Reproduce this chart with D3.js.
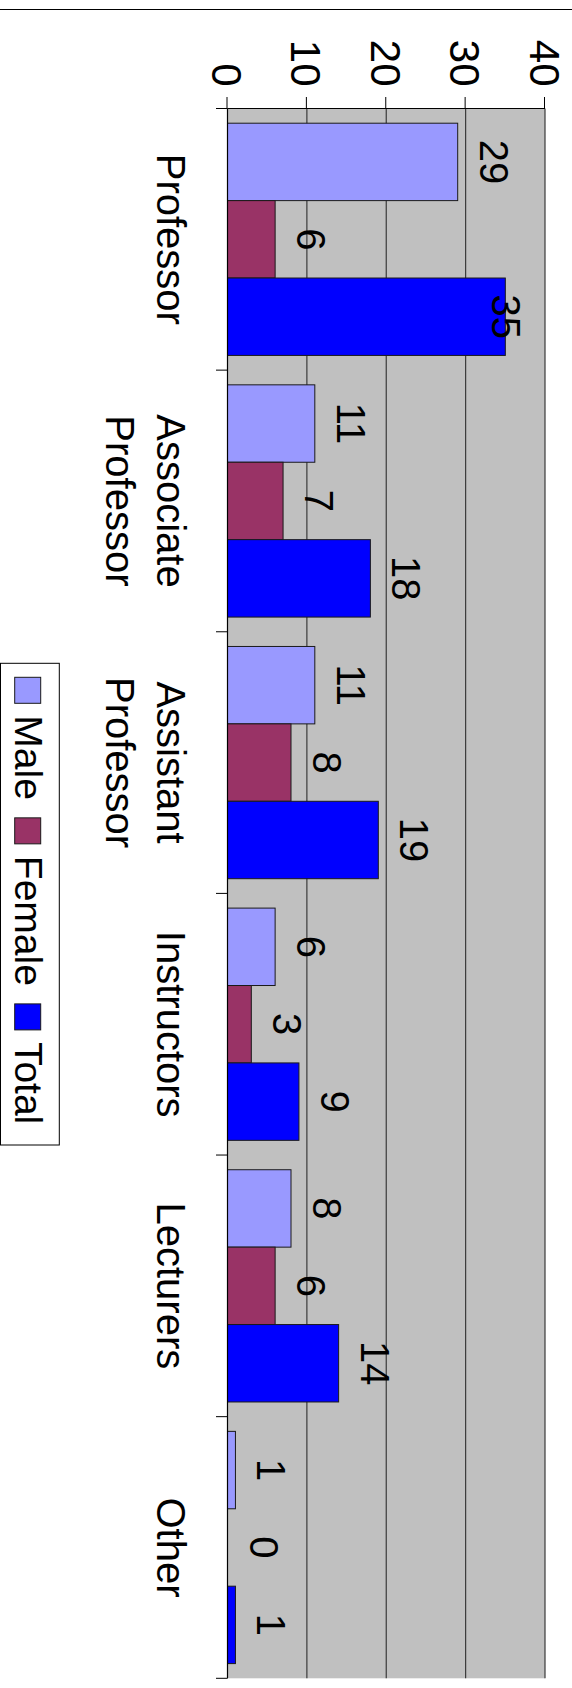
<!DOCTYPE html>
<html>
<head>
<meta charset="utf-8">
<script src="https://cdn.jsdelivr.net/npm/d3@7"></script>
<style>
  html, body { margin: 0; padding: 0; background: #fff; }
  svg { display: block; }
  text { font-family: "Liberation Sans", Arial, sans-serif; fill: #000; }
</style>
</head>
<body>
<script>
// ---- data ----
const categories = [["Professor"], ["Associate", "Professor"], ["Assistant", "Professor"], ["Instructors"], ["Lecturers"], ["Other"]];
const categoryNames = ["Professor", "Associate Professor", "Assistant Professor", "Instructors", "Lecturers", "Other"];
const seriesNames = ["Male", "Female", "Total"];
const maleValues = [29, 11, 11, 6, 8, 1];
const femaleValues = [6, 7, 8, 3, 6, 0];
const totalValues = [35, 18, 19, 9, 14, 1];
const valueTicks = [0, 10, 20, 30, 40];
const seriesColors = ["#9999FF", "#993366", "#0000FF"];

// ---- layout (chart drawn as a column chart, then rotated 90° clockwise) ----
const W = 572, H = 1688;
const svg = d3.select("body").append("svg").attr("width", W).attr("height", H);

// page rule at top
svg.append("line").attr("x1", 0).attr("x2", W).attr("y1", 9.5).attr("y2", 9.5)
  .attr("stroke", "#000").attr("stroke-width", 1);

// original frame: X along screen y, Y = 572 - screen x
const g = svg.append("g").attr("transform", `translate(${W},0) rotate(90)`);

const plotX0 = 108.5, plotX1 = 1678.3;
const y = d3.scaleLinear().domain([0, 40]).range([344.5, 27]);
const x0 = d3.scaleBand().domain(categoryNames).range([plotX0, plotX1]).padding(0);
const bw = x0.bandwidth();
const x1 = d3.scaleBand().domain(seriesNames).range([14.7, bw - 14.7]).padding(0);
const seriesValues = [maleValues, femaleValues, totalValues];

// plot background
g.append("rect").attr("x", plotX0).attr("y", y(40)).attr("width", plotX1 - plotX0)
  .attr("height", y(0) - y(40)).attr("fill", "#C0C0C0");

// gridlines
g.selectAll("line.grid").data(valueTicks.filter(d => d > 0)).join("line")
  .attr("class", "grid")
  .attr("x1", plotX0).attr("x2", plotX1)
  .attr("y1", d => y(d)).attr("y2", d => y(d))
  .attr("stroke", "#3a3a3a").attr("stroke-width", 1.2);

// bars
const rows = [];
categoryNames.forEach((c, i) => {
  seriesNames.forEach((s, j) => rows.push({ c, s, j, v: seriesValues[j][i] }));
});
g.selectAll("rect.bar").data(rows.filter(d => d.v > 0)).join("rect")
  .attr("class", "bar")
  .attr("x", d => x0(d.c) + x1(d.s))
  .attr("width", x1.bandwidth())
  .attr("y", d => y(d.v))
  .attr("height", d => y(0) - y(d.v))
  .attr("fill", d => seriesColors[d.j])
  .attr("stroke", "#1a1a1a").attr("stroke-width", 1);

// value axis (left in original frame => top on screen)
const valueAxis = d3.axisLeft(y).tickValues(valueTicks).tickSize(11.5).tickPadding(0).tickFormat(d3.format("d"));
const va = g.append("g").attr("transform", `translate(${plotX0},0)`).call(valueAxis);
va.select(".domain").remove();
va.selectAll(".tick line").attr("stroke", "#000").attr("stroke-width", 1);
va.selectAll(".tick text")
  .attr("x", -22).attr("dy", null).attr("y", 15)
  .attr("text-anchor", "end")
  .style("font-family", '"Liberation Sans", Arial, sans-serif')
  .style("font-size", "42px").attr("fill", "#000");
// value axis line
g.append("line").attr("x1", plotX0).attr("x2", plotX0).attr("y1", y(0)).attr("y2", y(40))
  .attr("stroke", "#000").attr("stroke-width", 1);

// category axis line + ticks at band boundaries
g.append("line").attr("x1", plotX0).attr("x2", plotX1).attr("y1", y(0)).attr("y2", y(0))
  .attr("stroke", "#000").attr("stroke-width", 1.2);
const boundaries = categoryNames.map(c => x0(c)).concat([plotX1]);
g.selectAll("line.ctick").data(boundaries).join("line")
  .attr("class", "ctick")
  .attr("x1", d => d).attr("x2", d => d)
  .attr("y1", y(0)).attr("y2", y(0) + 11.5)
  .attr("stroke", "#000").attr("stroke-width", 1);

// category labels
const catLabels = g.selectAll("text.cat").data(categories).join("text")
  .attr("class", "cat")
  .attr("text-anchor", "middle")
  .style("font-size", "40px");
catLabels.each(function (lines, i) {
  const t = d3.select(this);
  const cx = x0(categoryNames[i]) + bw / 2;
  lines.forEach((ln, k) => {
    t.append("tspan").attr("x", cx).attr("y", 415.5 + k * 50.5).text(ln);
  });
});

// data labels
g.selectAll("text.val").data(rows).join("text")
  .attr("class", "val")
  .attr("text-anchor", "middle")
  .style("font-size", "40px")
  .attr("x", d => x0(d.c) + x1(d.s) + x1.bandwidth() / 2)
  .attr("y", d => Math.max(y(d.v) - 22, 80))
  .text(d => d.v);

// legend
const lg = g.append("g");
const legX0 = 663.3, legX1 = 1145, legY0 = 512.7, legY1 = 571.5;
lg.append("rect").attr("x", legX0).attr("y", legY0).attr("width", legX1 - legX0)
  .attr("height", legY1 - legY0).attr("fill", "#fff").attr("stroke", "#000").attr("stroke-width", 1);
let cursor = 677.3;
seriesNames.forEach((s, j) => {
  lg.append("rect").attr("x", cursor).attr("y", 531.3).attr("width", 26).attr("height", 26)
    .attr("fill", seriesColors[j]).attr("stroke", "#1a1a1a").attr("stroke-width", 1);
  const t = lg.append("text").attr("x", cursor + 26 + 12).attr("y", 557)
    .style("font-size", "39px").text(s);
  cursor = cursor + 26 + 12 + t.node().getComputedTextLength() + 18;
});
</script>
</body>
</html>
